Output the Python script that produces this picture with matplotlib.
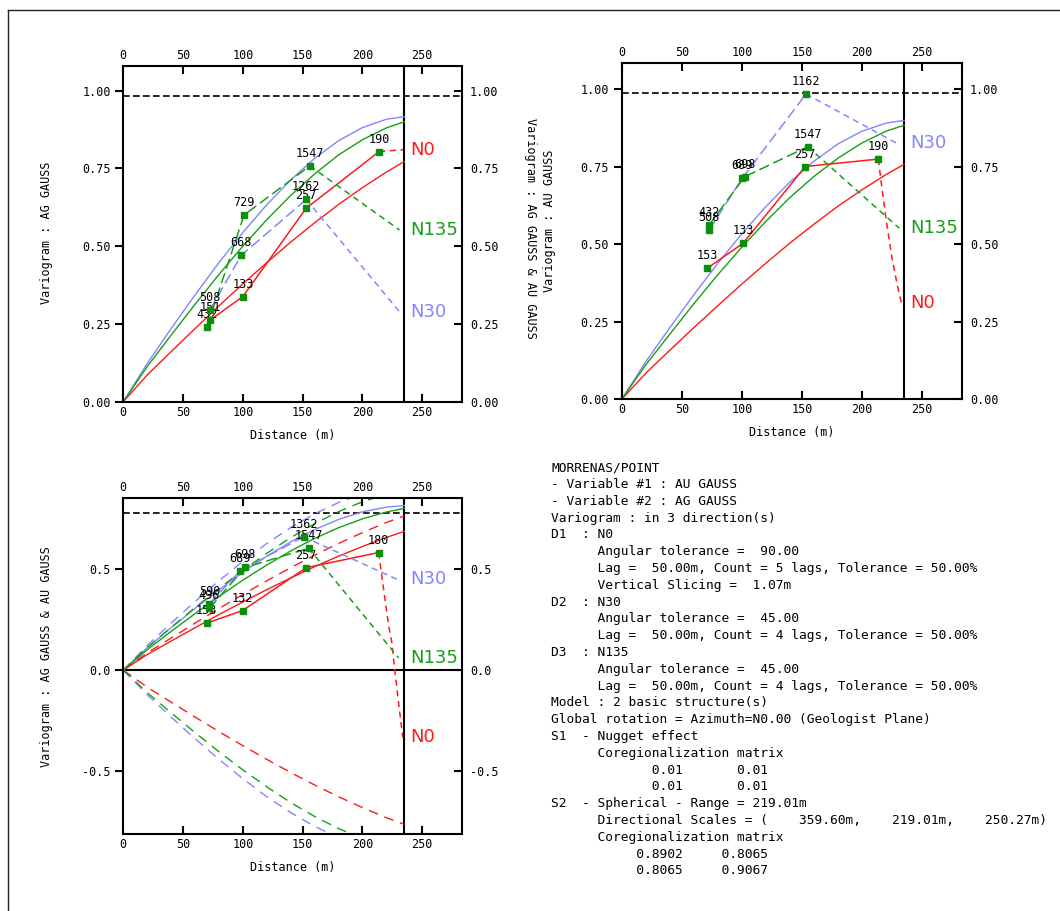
import matplotlib
matplotlib.use("Agg")
import matplotlib.pyplot as plt
from matplotlib.lines import Line2D
import matplotlib.ticker as ticker

RED, BLUE, GREEN = "#ff1a1a", "#8585ff", "#14a014"
MARK = "#0c8f0c"
MONO = "DejaVu Sans Mono"

DIRS = ["N0", "N30", "N135"]
DIR_COLORS = [RED, BLUE, GREEN]

# distances at which the model curves were read
dist = [0, 20, 40, 60, 80, 100, 120, 140, 160, 180, 200, 220, 235]

# panel 1 : AG GAUSS -- models
ag_mod_n0 = [0, 0.086, 0.161, 0.235, 0.308, 0.379, 0.447, 0.513, 0.575, 0.634, 0.688, 0.738, 0.772]
ag_mod_n30 = [0, 0.123, 0.235, 0.343, 0.447, 0.544, 0.633, 0.713, 0.782, 0.839, 0.881, 0.908, 0.916]
ag_mod_n135 = [0, 0.113, 0.214, 0.313, 0.409, 0.500, 0.585, 0.663, 0.732, 0.793, 0.842, 0.880, 0.900]
# panel 2 : AU GAUSS -- models
au_mod_n0 = [0, 0.084, 0.158, 0.231, 0.302, 0.372, 0.439, 0.504, 0.565, 0.623, 0.676, 0.725, 0.758]
au_mod_n30 = [0, 0.121, 0.231, 0.337, 0.439, 0.534, 0.622, 0.701, 0.768, 0.824, 0.865, 0.891, 0.900]
au_mod_n135 = [0, 0.111, 0.210, 0.308, 0.402, 0.491, 0.574, 0.651, 0.719, 0.778, 0.827, 0.865, 0.884]
# panel 3 : cross variogram -- models and correlation hulls
cr_mod_n0 = [0, 0.077, 0.144, 0.210, 0.275, 0.338, 0.399, 0.457, 0.513, 0.565, 0.613, 0.658, 0.688]
cr_mod_n30 = [0, 0.111, 0.210, 0.306, 0.398, 0.485, 0.565, 0.636, 0.697, 0.747, 0.785, 0.808, 0.816]
cr_mod_n135 = [0, 0.101, 0.192, 0.280, 0.365, 0.446, 0.521, 0.591, 0.653, 0.706, 0.750, 0.784, 0.802]
hull_n0 = [0, 0.085, 0.159, 0.233, 0.305, 0.375, 0.443, 0.508, 0.570, 0.628, 0.682, 0.732, 0.765]
hull_n30 = [0, 0.122, 0.233, 0.340, 0.443, 0.539, 0.628, 0.707, 0.775, 0.831, 0.873, 0.899, 0.908]
hull_n135 = [0, 0.112, 0.212, 0.310, 0.405, 0.495, 0.579, 0.657, 0.726, 0.786, 0.835, 0.872, 0.892]

# experimental variograms: lags, values, pair counts, last (dashed) segment
ag_n0_h, ag_n0_g = [72.5, 100, 153, 214], [0.262, 0.338, 0.622, 0.804]
ag_n0_np = ["151", "133", "257", "190"]
ag_n0_tail = ([214, 234], [0.804, 0.810])
ag_n30_h, ag_n30_g = [72.5, 98.5, 153], [0.295, 0.470, 0.650]
ag_n30_np = ["508", "668", "1262"]
ag_n30_tail = ([153, 231], [0.650, 0.289])
ag_n135_h, ag_n135_g = [70, 101, 156], [0.241, 0.600, 0.758]
ag_n135_np = ["432", "729", "1547"]
ag_n135_tail = ([156, 231], [0.758, 0.552])

au_n0_h, au_n0_g = [71.3, 100.9, 152.8, 213.6], [0.423, 0.503, 0.751, 0.775]
au_n0_np = ["153", "133", "257", "190"]
au_n0_tail = ([213.6, 216, 219.7, 225.2, 230.8, 233], [0.775, 0.70, 0.59, 0.45, 0.342, 0.31])
au_n30_h, au_n30_g = [72.7, 100.3, 153.4], [0.546, 0.713, 0.985]
au_n30_np = ["508", "689", "1162"]
au_n30_tail = ([153.4, 229], [0.985, 0.826])
au_n135_h, au_n135_g = [72.7, 102.3, 154.8], [0.562, 0.718, 0.815]
au_n135_np = ["432", "698", "1547"]
au_n135_tail = ([154.8, 231], [0.815, 0.552])

cr_n0_h, cr_n0_g = [69.8, 99.7, 153, 213.6], [0.233, 0.295, 0.508, 0.583]
cr_n0_np = ["153", "132", "257", "180"]
cr_n0_tail = ([213.6, 217, 222, 224.7, 227, 230.3, 233.7], [0.583, 0.43, 0.217, 0.133, 0.0, -0.167, -0.333])
cr_n30_h, cr_n30_g = [72, 97.7, 150.8], [0.330, 0.492, 0.661]
cr_n30_np = ["590", "689", "1362"]
cr_n30_tail = ([150.8, 229], [0.661, 0.45])
cr_n135_h, cr_n135_g = [72, 101.9, 155], [0.306, 0.509, 0.604]
cr_n135_np = ["496", "698", "1547"]
cr_n135_tail = ([155, 230.3], [0.604, 0.06])

sills = [0.981, 0.989, 0.78]

info_lines = [
    "MORRENAS/POINT",
    "- Variable #1 : AU GAUSS",
    "- Variable #2 : AG GAUSS",
    "Variogram : in 3 direction(s)",
    "D1  : N0",
    "      Angular tolerance =  90.00",
    "      Lag =  50.00m, Count = 5 lags, Tolerance = 50.00%",
    "      Vertical Slicing =  1.07m",
    "D2  : N30",
    "      Angular tolerance =  45.00",
    "      Lag =  50.00m, Count = 4 lags, Tolerance = 50.00%",
    "D3  : N135",
    "      Angular tolerance =  45.00",
    "      Lag =  50.00m, Count = 4 lags, Tolerance = 50.00%",
    "Model : 2 basic structure(s)",
    "Global rotation = Azimuth=N0.00 (Geologist Plane)",
    "S1  - Nugget effect",
    "      Coregionalization matrix",
    "             0.01       0.01",
    "             0.01       0.01",
    "S2  - Spherical - Range = 219.01m",
    "      Directional Scales = (    359.60m,    219.01m,    250.27m)",
    "      Coregionalization matrix",
    "           0.8902     0.8065",
    "           0.8065     0.9067",
]

W, H = 1060, 911
fig = plt.figure(figsize=(W / 100, H / 100), dpi=100)

# page frame (only left/top edges are visible in the crop)
fig.add_artist(Line2D([7.5 / W, 7.5 / W], [0, 1 - 10 / H], color="#222222", lw=1))
fig.add_artist(Line2D([7.5 / W, 1], [1 - 10 / H, 1 - 10 / H], color="#222222", lw=1))


def panel(rect, ylim, yticks, yfmt, sill, models, exps, hulls=None):
    ax = fig.add_axes(rect)
    ax.set_xlim(0, 283)
    ax.set_ylim(*ylim)
    for sp in ax.spines.values():
        sp.set_linewidth(1.5)

    ax.set_xticks([0, 50, 100, 150, 200, 250])
    ax.set_yticks(yticks)
    ax.yaxis.set_major_formatter(ticker.FormatStrFormatter(yfmt))
    ax.tick_params(axis="x", direction="in", top=True, labeltop=True, length=6,
                   width=1.5, pad=3)
    ax.tick_params(axis="y", direction="out", length=6, width=1.5, pad=3)
    sec = ax.secondary_yaxis("right")
    sec.set_yticks(yticks)
    sec.yaxis.set_major_formatter(ticker.FormatStrFormatter(yfmt))
    sec.tick_params(direction="in", length=6, width=1.5, pad=6)
    sec.spines["right"].set_visible(False)
    for lab in ax.get_xticklabels() + ax.get_yticklabels() + sec.get_yticklabels():
        lab.set_family(MONO)
        lab.set_fontsize(8.5)
    for t in ax.xaxis.get_major_ticks():
        t.label2.set_family(MONO)
        t.label2.set_fontsize(8.5)

    ax.axhline(sill, color="black", lw=1.2, ls=(0, (4, 2)))
    ax.axvline(235, color="black", lw=1.5)
    if ylim[0] < 0:
        ax.axhline(0, color="black", lw=1.5)

    for mod, col in zip(models, DIR_COLORS):
        ax.plot(dist, mod, color=col, lw=1)

    if hulls is not None:
        for hv, col in zip(hulls, DIR_COLORS):
            ax.plot(dist, hv, color=col, lw=1, dashes=(7, 5))
            ax.plot(dist, [-v for v in hv], color=col, lw=1, dashes=(7, 5))

    styles = ["-", (0, (7, 3)), (0, (7, 3))]
    for (h, g, npairs, tail), name, col, ls in zip(exps, DIRS, DIR_COLORS, styles):
        ax.plot(h, g, color=col, lw=1.1, ls=ls)
        ax.plot(tail[0], tail[1], color=col, lw=1.1, ls=(0, (4, 3)))
        ax.plot(h, g, ls="none", marker="s", ms=3.8, color=MARK, zorder=5)
        for x, y, t in zip(h, g, npairs):
            ax.annotate(t, (x, y), xytext=(0, 9), textcoords="offset points",
                        ha="center", va="center", fontsize=8.5, family=MONO)
        ax.text(240, tail[1][-1], name, color=col, fontsize=13,
                family="DejaVu Sans", ha="left", va="center", clip_on=False)
    return ax


ax1 = panel([123.3 / W, 1 - 401.7 / H, 338.4 / W, 335.7 / H], (0, 1.079),
            [0, 0.25, 0.5, 0.75, 1.0], "%.2f", sills[0],
            [ag_mod_n0, ag_mod_n30, ag_mod_n135],
            [(ag_n0_h, ag_n0_g, ag_n0_np, ag_n0_tail),
             (ag_n30_h, ag_n30_g, ag_n30_np, ag_n30_tail),
             (ag_n135_h, ag_n135_g, ag_n135_np, ag_n135_tail)])

ax2 = panel([621.7 / W, 1 - 399.3 / H, 340 / W, 336.6 / H], (0, 1.086),
            [0, 0.25, 0.5, 0.75, 1.0], "%.2f", sills[1],
            [au_mod_n0, au_mod_n30, au_mod_n135],
            [(au_n0_h, au_n0_g, au_n0_np, au_n0_tail),
             (au_n30_h, au_n30_g, au_n30_np, au_n30_tail),
             (au_n135_h, au_n135_g, au_n135_np, au_n135_tail)])

ax3 = panel([123.3 / W, 1 - 834 / H, 338.4 / W, 336.3 / H], (-0.813, 0.855),
            [-0.5, 0.0, 0.5], "%.1f", sills[2],
            [cr_mod_n0, cr_mod_n30, cr_mod_n135],
            [(cr_n0_h, cr_n0_g, cr_n0_np, cr_n0_tail),
             (cr_n30_h, cr_n30_g, cr_n30_np, cr_n30_tail),
             (cr_n135_h, cr_n135_g, cr_n135_np, cr_n135_tail)],
            hulls=[hull_n0, hull_n30, hull_n135])

# axis titles
lab = dict(family=MONO, fontsize=8.5, ha="center", va="center")
fig.text(292.5 / W, 1 - 435 / H, "Distance (m)", **lab)
fig.text(791.7 / W, 1 - 433 / H, "Distance (m)", **lab)
fig.text(292.5 / W, 1 - 867 / H, "Distance (m)", **lab)
fig.text(47 / W, 1 - 233 / H, "Variogram : AG GAUSS", rotation=90, **lab)
fig.text(530 / W, 1 - 228 / H, "Variogram : AG GAUSS & AU GAUSS", rotation=270, **lab)
fig.text(550 / W, 1 - 221 / H, "Variogram : AU GAUSS", rotation=90, **lab)
fig.text(47 / W, 1 - 657 / H, "Variogram : AG GAUSS & AU GAUSS", rotation=90, **lab)

# model / parameter listing
for i, line in enumerate(info_lines):
    fig.text(551 / W, 1 - (467.7 + i * 16.8) / H, line, family=MONO,
             fontsize=9.3, ha="left", va="center")

fig.savefig("out.png", dpi=100)
